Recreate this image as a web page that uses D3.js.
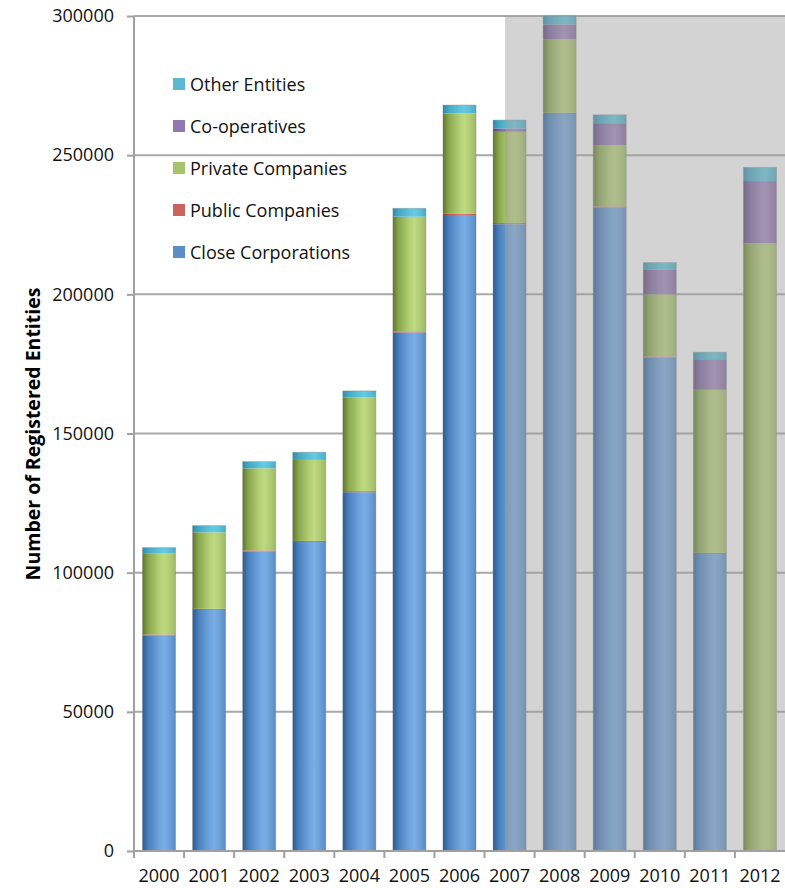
<!DOCTYPE html>
<html>
<head>
<meta charset="utf-8">
<script src="https://cdn.jsdelivr.net/npm/d3@7"></script>
<style>
  html, body { margin: 0; padding: 0; background: #ffffff; }
  svg { display: block; font-family: "Open Sans", "Liberation Sans", sans-serif; }
</style>
</head>
<body>
<svg id="chart" width="785" height="888"></svg>
<script>
// Registered entities per year, by entity type
const years = ["2000", "2001", "2002", "2003", "2004", "2005", "2006",
               "2007", "2008", "2009", "2010", "2011", "2012"];
const closeCorporations = [77400, 86600, 107600, 111000, 128900, 186300, 228500,
                           225200, 264800, 231200, 177300, 106700, 0];
const publicCompanies   = [400, 400, 400, 400, 400, 400, 400,
                           400, 400, 400, 400, 400, 300];
const privateCompanies  = [29200, 27500, 29500, 29100, 33700, 41200, 36100,
                           32800, 26500, 22000, 22300, 58600, 218000];
const cooperatives      = [0, 0, 0, 0, 0, 0, 0,
                           1200, 5300, 7900, 9000, 11000, 22400];
const otherEntities     = [2000, 2400, 2400, 2750, 2300, 3000, 3000,
                           3000, 3000, 3000, 2400, 2500, 4900];
const yTicks = [0, 50000, 100000, 150000, 200000, 250000, 300000];

const seriesNames = ["Close Corporations", "Public Companies", "Private Companies",
                     "Co-operatives", "Other Entities"];
const seriesValues = [closeCorporations, publicCompanies, privateCompanies,
                      cooperatives, otherEntities];

// Cylinder-like horizontal shading for each series
const shading = {
  "Close Corporations": ["#2c5b8f", "#4a80bd", "#6ea3dd", "#78aee6", "#6a9dd6", "#5a8bc2"],
  "Public Companies":   ["#9c3c3a", "#c0504d", "#d4706d", "#d97a77", "#cc6663", "#bb5552"],
  "Private Companies":  ["#5f772e", "#8aa84e", "#b3cf74", "#bfd982", "#b0ca73", "#9db863"],
  "Co-operatives":      ["#57436f", "#7a619b", "#9a82ba", "#a38cc2", "#9479b2", "#8268a0"],
  "Other Entities":     ["#2f8aa3", "#45a8c4", "#5cc3dc", "#66cbe2", "#58bcd6", "#4aaac5"]
};
const legendColor = {
  "Close Corporations": "#5b8ec7",
  "Public Companies": "#cb635f",
  "Private Companies": "#a6c46c",
  "Co-operatives": "#9079b0",
  "Other Entities": "#58b9d1"
};

const rows = years.map((yr, i) => {
  const r = { year: yr };
  seriesNames.forEach((s, k) => { r[s] = seriesValues[k][i]; });
  return r;
});

const svg = d3.select("#chart");
const plotLeft = 134, plotRight = 785, plotTop = 16, plotBottom = 851;

const x = d3.scaleBand().domain(years).range([plotLeft, plotRight])
  .paddingInner(0.34).paddingOuter(0.17);
const y = d3.scaleLinear().domain([0, 300000]).range([plotBottom, plotTop]);

const defs = svg.append("defs");
seriesNames.forEach((s, k) => {
  const g = defs.append("linearGradient").attr("id", "grad" + k)
    .attr("x1", 0).attr("x2", 1).attr("y1", 0).attr("y2", 0);
  const stops = [0, 0.18, 0.5, 0.65, 0.85, 1];
  shading[s].forEach((c, j) => g.append("stop").attr("offset", stops[j]).attr("stop-color", c));
});

// Horizontal gridlines
svg.append("g").selectAll("line").data(yTicks.filter(t => t > 0)).join("line")
  .attr("x1", plotLeft).attr("x2", plotRight)
  .attr("y1", d => y(d)).attr("y2", d => y(d))
  .attr("stroke", "#a8a8a8").attr("stroke-width", 2);

// Stacked bars
const stack = d3.stack().keys(seriesNames);
const layers = stack(rows);
svg.append("g").selectAll("g").data(layers).join("g")
  .attr("fill", (d, k) => `url(#grad${k})`)
  .selectAll("rect").data(d => d.filter(p => p[1] - p[0] > 0)).join("rect")
  .attr("x", d => x(d.data.year))
  .attr("width", x.bandwidth())
  .attr("y", d => y(d[1]))
  .attr("height", d => y(d[0]) - y(d[1]));

// Thin outline round each full bar
svg.append("g").selectAll("rect").data(rows).join("rect")
  .attr("x", d => x(d.year))
  .attr("width", x.bandwidth())
  .attr("y", d => y(d3.sum(seriesNames, s => d[s])))
  .attr("height", d => plotBottom - y(d3.sum(seriesNames, s => d[s])))
  .attr("fill", "none")
  .attr("stroke", "rgba(120,120,120,0.35)")
  .attr("stroke-width", 1);

// Translucent grey panel over the later years
const shadeX = x("2007") + 12;
svg.append("rect")
  .attr("x", shadeX).attr("y", plotTop)
  .attr("width", plotRight - shadeX).attr("height", plotBottom - plotTop)
  .attr("fill", "rgba(158,158,158,0.45)");

// Y axis
const yAxis = svg.append("g").attr("transform", `translate(${plotLeft},0)`)
  .call(d3.axisLeft(y).tickValues(yTicks).tickFormat(d3.format("d")).tickSize(7).tickPadding(13));
yAxis.select(".domain").attr("stroke", "#a0a0a0").attr("stroke-width", 2)
  .attr("d", `M0,${plotTop}V${plotBottom}`);
yAxis.selectAll(".tick line").attr("stroke", "#a0a0a0").attr("stroke-width", 2);
yAxis.selectAll(".tick text").attr("fill", "#111").style("font-size", "18px")
  .style("font-family", "'Open Sans', sans-serif");

// X axis
const xAxis = svg.append("g").attr("transform", `translate(0,${plotBottom})`)
  .call(d3.axisBottom(x).tickSize(0).tickPadding(18));
xAxis.select(".domain").remove();
xAxis.append("line").attr("x1", plotLeft).attr("x2", plotRight).attr("y1", 0).attr("y2", 0)
  .attr("stroke", "#a0a0a0").attr("stroke-width", 2);
xAxis.append("g").selectAll("line").data(years).join("line")
  .attr("x1", d => x(d) - (x.step() - x.bandwidth()) / 2)
  .attr("x2", d => x(d) - (x.step() - x.bandwidth()) / 2)
  .attr("y1", 0).attr("y2", 7)
  .attr("stroke", "#a0a0a0").attr("stroke-width", 2);
xAxis.selectAll(".tick text").attr("fill", "#111").style("font-size", "18px")
  .style("font-family", "'Open Sans', sans-serif");

// Y axis title
svg.append("text")
  .attr("transform", `translate(40,434) rotate(-90)`)
  .attr("text-anchor", "middle")
  .style("font-size", "19.5px").style("font-weight", "bold")
  .attr("fill", "#000")
  .text("Number of Registered Entities");

// Legend
const legendOrder = seriesNames.slice().reverse();
const legend = svg.append("g").selectAll("g").data(legendOrder).join("g")
  .attr("transform", (d, i) => `translate(173,${78 + i * 42})`);
legend.append("rect").attr("width", 12).attr("height", 12)
  .attr("fill", d => legendColor[d]);
legend.append("text").attr("x", 17).attr("y", 13)
  .style("font-size", "18px").attr("fill", "#111")
  .text(d => d);
</script>
</body>
</html>
